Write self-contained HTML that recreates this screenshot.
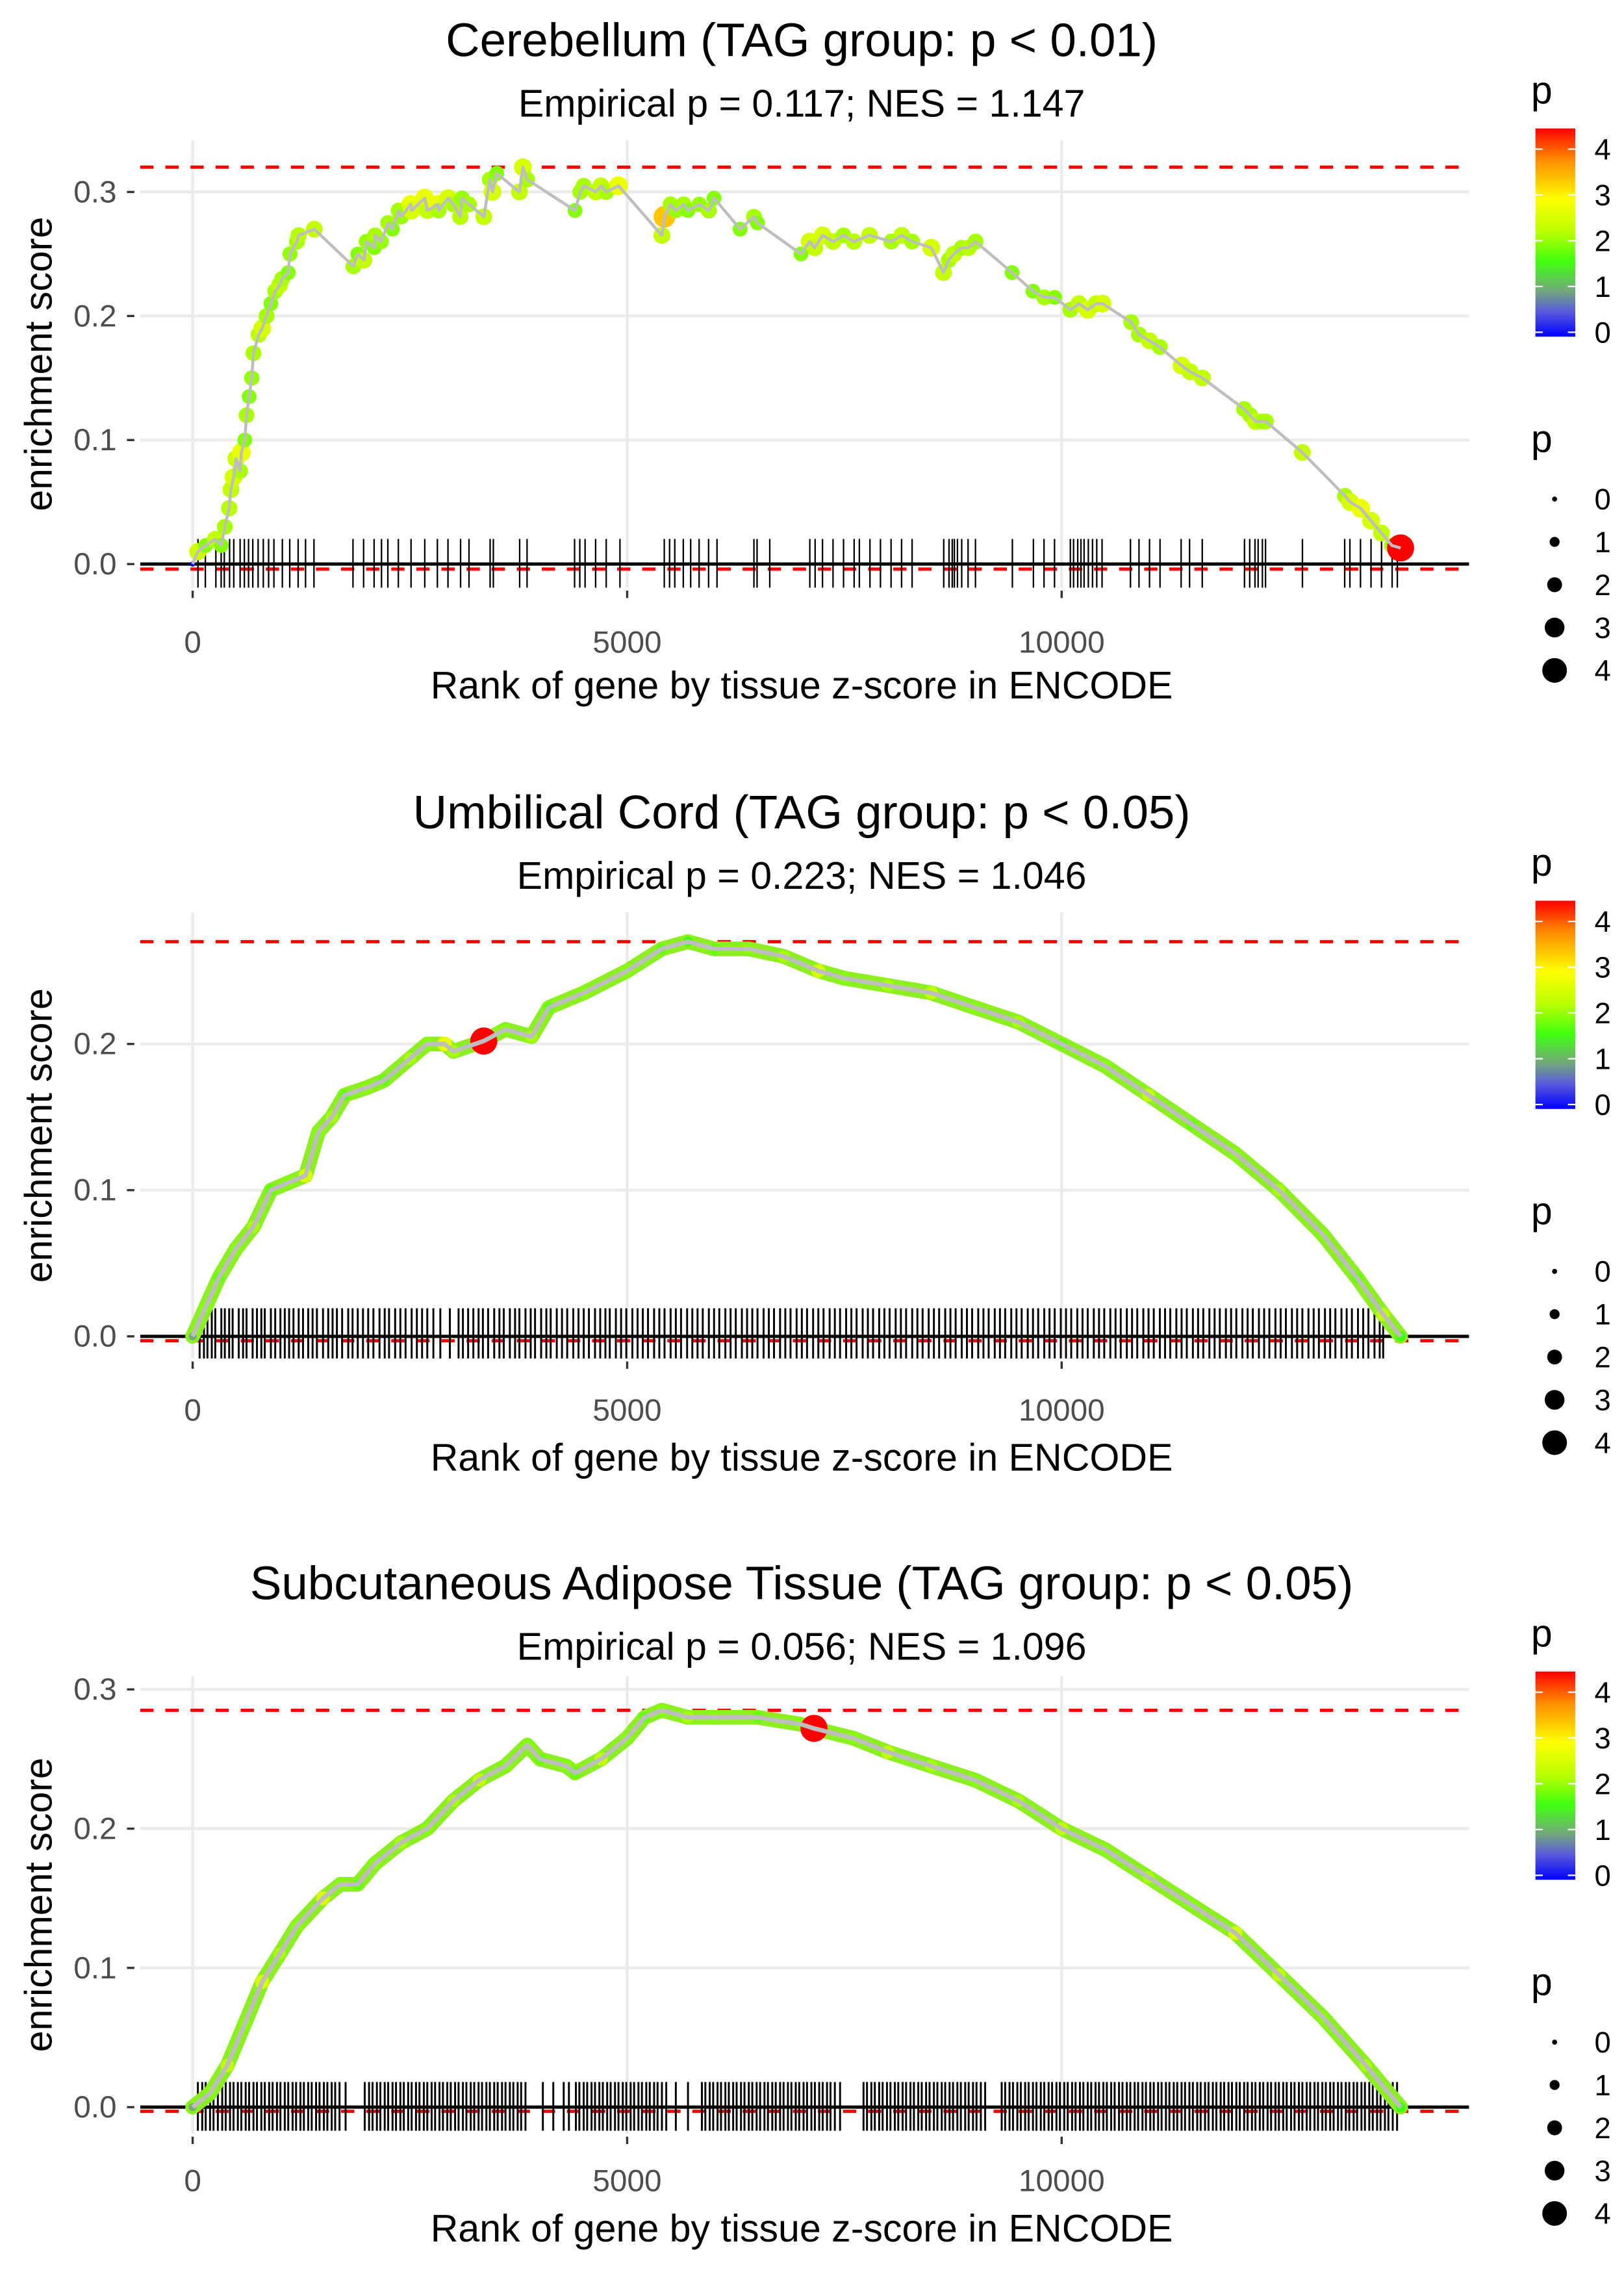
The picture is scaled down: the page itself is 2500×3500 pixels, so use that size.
<!DOCTYPE html>
<html><head><meta charset="utf-8"><style>
html,body{margin:0;padding:0;background:#fff;}
svg{display:block;font-family:"Liberation Sans",sans-serif;}
</style></head><body>
<svg id="fig" width="2500" height="3500" viewBox="0 0 1100 1540" xmlns="http://www.w3.org/2000/svg">
<defs>
<linearGradient id="pgrad" x1="0" y1="1" x2="0" y2="0">
<stop offset="0" stop-color="#0000ff"/><stop offset="0.12" stop-color="#5a5adc"/><stop offset="0.22" stop-color="#72a87a"/><stop offset="0.36" stop-color="#40ff10"/><stop offset="0.5" stop-color="#b8ff00"/><stop offset="0.66" stop-color="#ffff00"/><stop offset="0.85" stop-color="#ff8c00"/><stop offset="1" stop-color="#ff0000"/>
</linearGradient>
</defs>
</svg>
<script>
// ---------- data ----------
const xTicks = [0, 5000, 10000];
const titles = ["Cerebellum (TAG group: p < 0.01)", "Umbilical Cord (TAG group: p < 0.05)", "Subcutaneous Adipose Tissue (TAG group: p < 0.05)"];
const subtitles = ["Empirical p = 0.117; NES = 1.147", "Empirical p = 0.223; NES = 1.046", "Empirical p = 0.056; NES = 1.096"];
const maxES = [0.32, 0.27, 0.285];
const minES = [-0.004, -0.003, -0.003];
const yTicks1 = [0.0, 0.1, 0.2, 0.3];
const yTicks2 = [0.0, 0.1, 0.2];
const yTicks3 = [0.0, 0.1, 0.2, 0.3];

const rank1 = [0,60,150,260,330,370,420,440,470,500,545,560,600,620,650,680,700,760,800,850,900,950,1000,1030,1100,1120,1200,1220,1400,1850,1900,1970,2000,2090,2100,2170,2250,2300,2370,2400,2510,2520,2670,2700,2820,2830,2940,3000,3080,3100,3180,3350,3420,3450,3500,3760,3800,3850,4400,4460,4500,4640,4700,4760,4900,5400,5430,5500,5560,5650,5700,5830,5940,6000,6300,6460,6500,7000,7100,7160,7250,7370,7490,7610,7790,8040,8160,8280,8500,8640,8700,8760,8850,8930,9010,9430,9670,9800,9920,10100,10200,10300,10400,10470,10800,10890,11010,11130,11380,11480,11620,12100,12170,12230,12310,12350,12770,13260,13320,13440,13560,13680,13800,13900];
const es1 = [0,0.01,0.015,0.02,0.015,0.03,0.045,0.06,0.07,0.085,0.075,0.09,0.1,0.12,0.135,0.15,0.17,0.185,0.19,0.2,0.21,0.22,0.225,0.23,0.235,0.25,0.26,0.265,0.27,0.24,0.25,0.245,0.26,0.255,0.265,0.26,0.275,0.27,0.285,0.28,0.29,0.285,0.295,0.285,0.29,0.285,0.295,0.29,0.28,0.295,0.29,0.28,0.31,0.3,0.315,0.3,0.32,0.31,0.285,0.3,0.305,0.3,0.305,0.3,0.305,0.265,0.28,0.29,0.285,0.29,0.285,0.29,0.285,0.295,0.27,0.28,0.275,0.25,0.26,0.255,0.265,0.26,0.265,0.26,0.265,0.26,0.265,0.26,0.255,0.235,0.245,0.25,0.255,0.255,0.26,0.235,0.22,0.215,0.215,0.205,0.21,0.205,0.21,0.21,0.195,0.185,0.18,0.175,0.16,0.155,0.15,0.125,0.12,0.115,0.115,0.115,0.09,0.055,0.05,0.045,0.035,0.025,0.015,0.013];
const p1 = [0,2.5,2,2.4,2,2.2,2.3,2.4,2.6,2.5,2.2,2.8,2,2.2,2,2.1,2.2,2.3,2.6,2.2,2,2.2,2.4,2.2,2,2.1,2.2,2.3,2.4,2.2,2,2.4,2.1,2,2.2,2.1,2.2,2,2.2,2.1,2.8,2.6,2.8,2.4,2.8,2.2,2.6,2.2,2.3,2.1,2.2,2.4,2.2,2.6,2,2.4,2.6,2.2,2,2.2,2.2,2.4,2.4,2.2,2.8,2.4,3.4,2.2,2.1,2.2,2,2.1,2.2,2,2,2.2,2,2,2.6,2.4,2.6,2.4,2.2,2.3,2.4,2.2,2.4,2.2,2.6,2.4,2.2,2.4,2.2,2.3,2.2,2,2,2.2,2,2.2,2.4,2.6,2.4,2.6,2.2,2.2,2.4,2.2,2.6,2.4,2.4,2.2,2.2,2.4,2.2,2.2,2.4,2.2,2.6,2.8,2.6,2.4,2.2,4.5];
const rug1 = [61,146,267,328,364,425,473,546,595,643,692,753,813,874,935,1032,1117,1214,1299,1396,1845,1967,2088,2173,2246,2367,2513,2671,2816,2938,3083,3180,3423,3460,3763,3848,4395,4455,4516,4637,4759,4917,5427,5488,5548,5646,5731,5828,5937,6034,6459,6495,6641,7102,7163,7248,7369,7490,7612,7672,7794,7915,8037,8158,8279,8643,8704,8741,8765,8801,8850,8923,9008,9433,9675,9797,9918,10100,10137,10185,10222,10258,10307,10355,10404,10465,10792,10890,11011,11132,11375,11472,11618,12104,12164,12225,12261,12310,12346,12771,13257,13317,13439,13560,13681,13803,13863];

const rank2 = [0,150,300,500,700,900,1100,1300,1450,1600,1750,2000,2200,2500,2700,2900,3000,3350,3600,3900,4100,4500,5000,5400,5700,6000,6400,6800,7200,7500,8000,8500,9000,9500,10000,10500,11000,11500,12000,12500,13000,13400,13700,13900];
const es2 = [0,0.02,0.04,0.06,0.075,0.1,0.105,0.11,0.14,0.15,0.165,0.17,0.175,0.19,0.2,0.2,0.195,0.202,0.21,0.205,0.225,0.235,0.25,0.265,0.27,0.265,0.265,0.26,0.25,0.245,0.24,0.235,0.225,0.215,0.2,0.185,0.165,0.145,0.125,0.1,0.07,0.04,0.015,0];
const p2 = [1,2,1.8,2,2.2,1.8,2,2.6,2,2.2,1.8,2,1.8,2.2,2,2.8,2.2,4.5,2,2.2,1.8,2,2,1.8,1.6,1.8,2,2.2,2.6,2,2.2,2.4,2,2.2,1.8,2,2.4,1.8,2,2.2,2,1.8,2.4,1.6];
const rug2 = [80,130,170,220,260,330,370,420,460,530,580,620,690,740,790,830,900,950,1010,1060,1110,1160,1220,1270,1330,1380,1430,1500,1560,1610,1660,1720,1790,1840,1900,1960,2020,2080,2150,2210,2260,2330,2390,2450,2520,2580,2640,2700,2770,2850,2960,3060,3110,3170,3230,3290,3340,3400,3470,3530,3580,3650,3710,3760,3830,3890,3940,4010,4070,4120,4190,4250,4310,4380,4440,4500,4560,4630,4690,4750,4800,4870,4930,4990,5060,5120,5180,5240,5310,5370,5430,5500,5560,5620,5690,5750,5810,5870,5940,6000,6060,6130,6190,6250,6320,6380,6440,6500,6570,6630,6690,6760,6820,6880,6950,7010,7070,7140,7200,7260,7330,7390,7450,7520,7580,7640,7710,7770,7830,7900,7960,8020,8090,8150,8210,8280,8340,8400,8470,8530,8590,8660,8720,8780,8850,8910,8970,9040,9100,9160,9230,9290,9350,9420,9480,9540,9610,9670,9730,9800,9860,9920,9990,10050,10110,10180,10240,10300,10370,10430,10490,10560,10620,10680,10750,10810,10870,10940,11000,11060,11130,11190,11250,11320,11380,11440,11510,11570,11630,11700,11760,11820,11890,11950,12010,12080,12140,12200,12270,12330,12390,12460,12520,12580,12650,12710,12770,12840,12900,12960,13030,13090,13150,13220,13280,13340,13410,13470,13530,13600,13660,13700];

const rank3 = [0,200,400,600,800,1000,1200,1500,1700,1900,2100,2400,2700,3000,3300,3600,3850,4000,4300,4400,4700,5000,5200,5400,5700,6000,6500,7000,7150,7600,8000,8500,9000,9500,10000,10500,11000,11500,12000,12500,13000,13500,13900];
const es3 = [0,0.01,0.03,0.06,0.09,0.11,0.13,0.15,0.16,0.16,0.175,0.19,0.2,0.22,0.235,0.245,0.26,0.25,0.245,0.24,0.25,0.265,0.28,0.285,0.28,0.28,0.28,0.275,0.272,0.265,0.255,0.245,0.235,0.22,0.2,0.185,0.165,0.145,0.125,0.095,0.065,0.03,0];
const p3 = [1,2,2.4,2,2.6,2.2,2,2.6,2,1.8,2,2.2,2,2.2,2.4,2,2,1.8,2,1.8,2.4,2,1.8,2,2.2,2,1.8,2,4.5,2,2.4,2.2,2,2.2,2.4,2,2.2,2,2.6,2.4,2,2.2,1.6];
const rug3 = [60,110,150,200,240,290,340,380,430,470,520,560,610,650,700,740,790,830,880,920,970,1010,1060,1100,1150,1190,1240,1280,1330,1370,1420,1460,1510,1550,1600,1640,1690,1760,1980,2030,2070,2120,2160,2210,2250,2300,2340,2390,2430,2480,2520,2570,2610,2660,2700,2750,2790,2840,2880,2930,2970,3020,3060,3110,3150,3200,3240,3290,3330,3380,3420,3470,3510,3560,3600,3650,3690,3740,3780,3830,4030,4150,4270,4330,4410,4450,4500,4540,4590,4630,4680,4720,4770,4810,4860,4900,4950,4990,5040,5080,5130,5170,5220,5260,5310,5350,5400,5450,5560,5700,5860,5900,5950,5990,6040,6080,6130,6170,6220,6260,6310,6350,6400,6440,6490,6530,6580,6620,6670,6710,6760,6800,6850,6890,6940,6980,7030,7070,7120,7160,7210,7250,7300,7340,7390,7450,7720,7760,7810,7850,7900,7940,7990,8030,8080,8120,8170,8210,8260,8300,8350,8390,8440,8480,8530,8570,8620,8660,8710,8750,8800,8840,8890,8930,8980,9020,9070,9120,9310,9350,9400,9440,9490,9530,9580,9620,9670,9710,9760,9800,9850,9890,9940,9980,10030,10070,10120,10160,10210,10250,10300,10340,10390,10430,10480,10520,10570,10610,10660,10700,10750,10790,10840,10880,10930,10970,11020,11060,11110,11150,11200,11240,11290,11330,11380,11420,11470,11510,11560,11600,11650,11690,11740,11780,11830,11870,11920,11960,12010,12050,12100,12140,12190,12230,12280,12320,12370,12410,12460,12500,12550,12590,12640,12680,12730,12770,12820,12860,12910,12950,13000,13040,13090,13130,13180,13220,13270,13310,13360,13400,13450,13490,13540,13580,13630,13670,13720,13760,13810,13860];

const legendColorTicks = [0,1,2,3,4];
const legendSizeTicks = [0,1,2,3,4];

// ---------- drawing ----------
const NS = "http://www.w3.org/2000/svg";
const svg = document.getElementById("fig");
function mk(tag, attrs, parent, text){
  const e = document.createElementNS(NS, tag);
  for (const k in attrs) e.setAttribute(k, attrs[k]);
  if (text !== undefined) e.textContent = text;
  (parent || svg).appendChild(e);
  return e;
}
function pColor(p){
  const st=[[0,[0,0,255]],[0.5,[90,90,220]],[1,[114,168,122]],[1.6,[64,255,16]],[2.3,[184,255,0]],[3,[255,255,0]],[3.8,[255,140,0]],[4.5,[255,0,0]]];
  if (p<=0) return "rgb(0,0,255)";
  for (let i=1;i<st.length;i++){ if (p<=st[i][0]){ const a=st[i-1],b=st[i],t=(p-a[0])/(b[0]-a[0]); const c=a[1].map((v,j)=>Math.round(v+(b[1][j]-v)*t)); return "rgb("+c.join(",")+")"; } }
  return "rgb(255,0,0)";
}
function pRadius(p){ return 1.8 + 1.75*p; }

const X0 = 130.5, XPER = 294.3/5000, PL = 95, PR = 995;
function xs(r){ return X0 + r*XPER; }

const panels = [
  {top:95, bottom:398, y0:382, yper:840, ticks:yTicks1, rank:rank1, es:es1, p:p1, rug:rug1, rugTop:365, rugBot:398, thick:false, ty:27, sy:70, xl:435, xt:464, leg:62},
  {top:618, bottom:920, y0:905, yper:990, ticks:yTicks2, rank:rank2, es:es2, p:p2, rug:rug2, rugTop:886, rugBot:920, thick:true, ty:550, sy:593, xl:955, xt:987, leg:585},
  {top:1135, bottom:1445, y0:1427, yper:943, ticks:yTicks3, rank:rank3, es:es3, p:p3, rug:rug3, rugTop:1410, rugBot:1443, thick:true, ty:1072, sy:1115, xl:1477, xt:1509, leg:1107}
];

panels.forEach((P, i) => {
  const g = mk("g", {});
  
  
  const ys = v => P.y0 - v*P.yper;

  const t = mk("text", {x:543, y:P.ty+11, "text-anchor":"middle", "font-size":32, fill:"#000"}, g, titles[i]);
  
  
  const st = mk("text", {x:543, y:P.sy+9, "text-anchor":"middle", "font-size":26, fill:"#000"}, g, subtitles[i]);
  
  

  P.ticks.forEach(v => {
    const l = mk("line", {x1:PL, x2:PR, y1:ys(v), y2:ys(v), stroke:"#ebebeb", "stroke-width":2}, g);
    
    
    const tk = mk("line", {x1:86, x2:91, y1:ys(v), y2:ys(v), stroke:"#333", "stroke-width":1.5}, g);
    
    
    const lb = mk("text", {x:79, y:ys(v)+7, "text-anchor":"end", "font-size":21, fill:"#4d4d4d"}, g, v.toFixed(1));
    
    
  });
  xTicks.forEach(v => {
    const l = mk("line", {x1:xs(v), x2:xs(v), y1:P.top, y2:P.bottom, stroke:"#ebebeb", "stroke-width":2}, g);
    
    
    const tk = mk("line", {x1:xs(v), x2:xs(v), y1:P.bottom+2, y2:P.bottom+7, stroke:"#333", "stroke-width":1.5}, g);
    
    
    const lb = mk("text", {x:xs(v), y:P.xl+7, "text-anchor":"middle", "font-size":21, fill:"#4d4d4d"}, g, String(v));
    
    
  });

  const dmax = mk("line", {x1:PL, x2:PR, y1:ys(maxES[i]), y2:ys(maxES[i]), stroke:"#ff0000", "stroke-width":2.2, "stroke-dasharray":"9,8"}, g);
  
  
  const dmin = mk("line", {x1:PL, x2:PR, y1:ys(minES[i]), y2:ys(minES[i]), stroke:"#ff0000", "stroke-width":2.2, "stroke-dasharray":"9,8"}, g);
  
  

  const rg = mk("g", {}, g);
  
  
  P.rug.forEach(r => {
    const l = mk("line", {x1:xs(r), x2:xs(r), y1:P.rugTop, y2:P.rugBot, stroke:"#000", "stroke-width":P.thick?1.3:1}, rg);
    
    
  });
  const zl = mk("line", {x1:PL, x2:PR, y1:ys(0), y2:ys(0), stroke:"#000", "stroke-width":2.2}, g);
  
  

  const d = P.rank.map((r,k) => (k?"L":"M") + xs(r).toFixed(1) + "," + ys(P.es[k]).toFixed(1)).join(" ");
  if (P.thick){
    const u = mk("path", {d:d, fill:"none", stroke:"#8cf020", "stroke-width":10, "stroke-linejoin":"round", "stroke-linecap":"round"}, g);
    
    
  }
  const pts = mk("g", {}, g);
  
  
  P.rank.forEach((r,k) => {
    const rr = P.thick && P.p[k] < 4 ? pRadius(P.p[k])*0.75 : pRadius(P.p[k])*0.95;
    const c = mk("circle", {cx:xs(r), cy:ys(P.es[k]), r:rr, fill:pColor(P.p[k])}, pts);
    
    
  });
  const line = mk("path", {d:d, fill:"none", stroke:"#bebebe", "stroke-width":P.thick?3:2, "stroke-linejoin":"round"}, g);
  
  

  const xt = mk("text", {x:543, y:P.xt+9, "text-anchor":"middle", "font-size":26, fill:"#000"}, g, "Rank of gene by tissue z-score in ENCODE");
  
  
  const yc = (P.top+P.bottom)/2;
  const yt = mk("text", {x:0, y:0, "text-anchor":"middle", "font-size":26, fill:"#000", transform:"translate(35,"+yc+") rotate(-90)"}, g, "enrichment score");
  
  

  const L = P.leg;
  const lg = mk("g", {}, g);
  
  
  const lt = mk("text", {x:1037, y:L+8, "font-size":26, fill:"#000"}, lg, "p");
  
  
  const barTop = L+25, barBot = L+166;
  const bar = mk("rect", {x:1040, y:barTop, width:27, height:barBot-barTop, fill:"url(#pgrad)"}, lg);
  
  
  const cy = v => barBot - 3 - v*31;
  legendColorTicks.forEach(v => {
    mk("line", {x1:1040, x2:1045, y1:cy(v), y2:cy(v), stroke:"#fff", "stroke-width":1}, lg);
    mk("line", {x1:1062, x2:1067, y1:cy(v), y2:cy(v), stroke:"#fff", "stroke-width":1}, lg);
    const tl = mk("text", {x:1080, y:cy(v)+7, "font-size":20, fill:"#000"}, lg, String(v));
    
    
  });
  const sg = mk("g", {}, g);
  
  
  const s0 = L+236;
  const stt = mk("text", {x:1037, y:s0+8, "font-size":26, fill:"#000"}, sg, "p");
  
  
  legendSizeTicks.forEach((v,k) => {
    const yy = s0 + 40 + k*29;
    const c = mk("circle", {cx:1053, cy:yy, r:pRadius(v)*0.95, fill:"#000"}, sg);
    
    
    const tl = mk("text", {x:1080, y:yy+7, "font-size":20, fill:"#000"}, sg, String(v));
    
    
  });
});
</script>
</body></html>
